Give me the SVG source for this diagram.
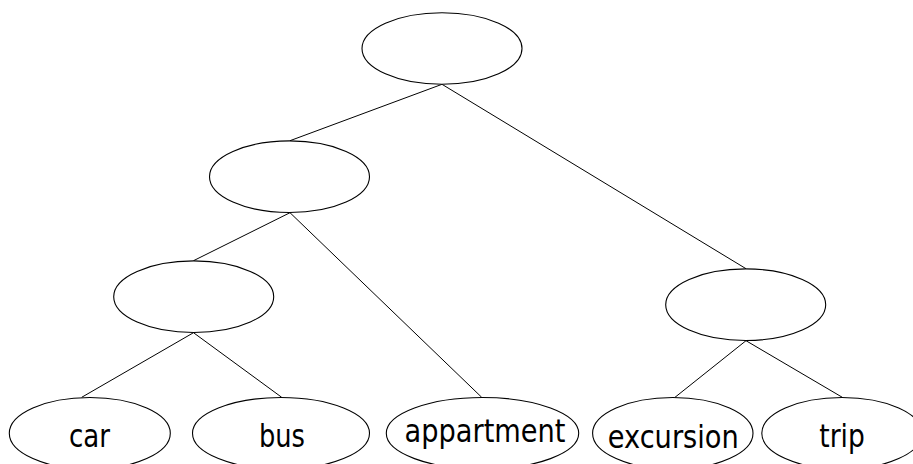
<svg xmlns="http://www.w3.org/2000/svg" width="913" height="464" viewBox="0 0 913 464">
  <style>
    .node ellipse { fill: #ffffff; stroke: #000000; stroke-width: 1.1; }
    .node text { font-family: "DejaVu Sans Condensed", "DejaVu Sans", sans-serif; font-size: 32px; fill: #000000; text-anchor: middle; }
    #edges line { stroke: #000000; stroke-width: 1; }
  </style>
  <rect width="913" height="464" fill="#ffffff"/>

  <!-- tree edges: parent bottom to child top -->
  <g id="edges">
    <line x1="442" y1="84.3" x2="290" y2="140.7"/>
    <line x1="442" y1="84.3" x2="746" y2="268.7"/>
    <line x1="290" y1="212.7" x2="193.5" y2="260.7"/>
    <line x1="290" y1="212.7" x2="481.7" y2="397.3"/>
    <line x1="193.5" y1="332.7" x2="81.7" y2="397.3"/>
    <line x1="193.5" y1="332.7" x2="281.7" y2="397.3"/>
    <line x1="746" y1="340.7" x2="675" y2="397.3"/>
    <line x1="746" y1="340.7" x2="842.3" y2="397.3"/>
  </g>

  <!-- internal nodes -->
  <g id="root" class="node"><ellipse cx="442" cy="48.5" rx="80" ry="35.8"/></g>
  <g id="n-left" class="node"><ellipse cx="289.5" cy="176.7" rx="80" ry="35.8"/></g>
  <g id="n-left-left" class="node"><ellipse cx="193.7" cy="296.7" rx="80" ry="35.8"/></g>
  <g id="n-right" class="node"><ellipse cx="745.7" cy="304.7" rx="80" ry="35.8"/></g>

  <!-- leaves -->
  <g id="car" class="node"><ellipse cx="89.8" cy="433.3" rx="80.5" ry="35.8"/><text x="89.5" y="447" textLength="41" lengthAdjust="spacingAndGlyphs">car</text></g>
  <g id="bus" class="node"><ellipse cx="281" cy="433.3" rx="88.5" ry="35.8"/><text x="282" y="447" textLength="46" lengthAdjust="spacingAndGlyphs">bus</text></g>
  <g id="appartment" class="node"><ellipse cx="482.5" cy="433.3" rx="96.2" ry="35.8"/><text x="485" y="441.5" textLength="161" lengthAdjust="spacingAndGlyphs">appartment</text></g>
  <g id="excursion" class="node"><ellipse cx="672.8" cy="433.3" rx="80.2" ry="35.8"/><text x="673.3" y="447.5" textLength="131" lengthAdjust="spacingAndGlyphs">excursion</text></g>
  <g id="trip" class="node"><ellipse cx="842" cy="433.3" rx="80.2" ry="35.8"/><text x="842" y="447" textLength="45.5" lengthAdjust="spacingAndGlyphs">trip</text></g>
</svg>
